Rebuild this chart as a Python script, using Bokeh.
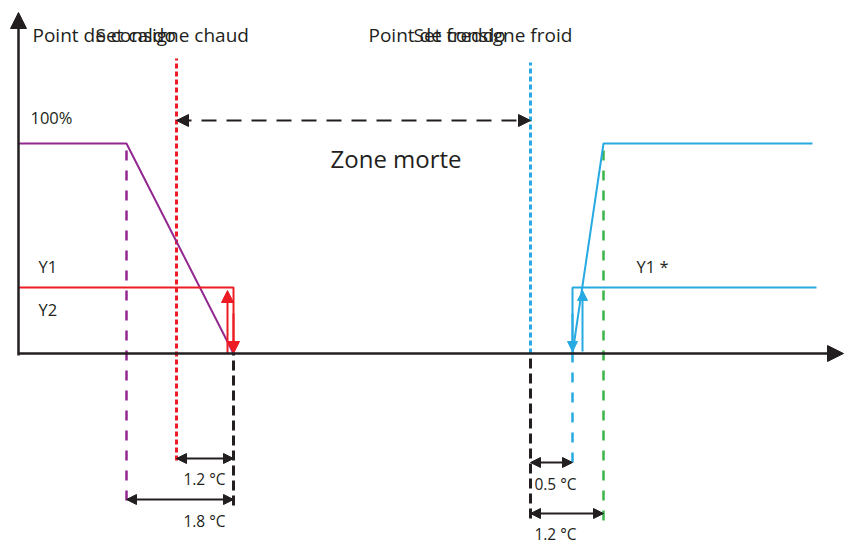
from bokeh.plotting import figure
from bokeh.models import Range1d, Arrow, NormalHead, ColumnDataSource
from bokeh.core.properties import value
from bokeh.embed import file_html
from bokeh.resources import INLINE

# ---- diagram data (diagram units: x to the right of the y axis, y above the x axis) ----
# heating (chaud) output curves
purple_x = [0, 108, 215]          # 100% level, then ramp to 0 over 1.8 °C
purple_y = [210, 210, 0]
red_x = [0, 215, 215]             # Y1 / Y2 step output
red_y = [66, 66, 0]
# cooling (froid) output curves
blue_step_x = [554, 554, 798]     # Y1* step
blue_step_y = [0, 66, 66]
blue_ramp_x = [554, 585, 794]     # ramp to 100% over 1.2 °C
blue_ramp_y = [0, 210, 210]

# vertical reference lines: x, y bottom, y top, colour, dash, width
vlines_x = [108, 158, 215, 512, 512, 554, 585]
vlines_y0 = [-147, -107, -152, 0, -165, -109, -167]
vlines_y1 = [210, 295, 0, 291, 0, 0, 210]
vlines_color = ["#92278F", "#ED1C24", "#231F20", "#27AAE1", "#231F20", "#27AAE1", "#39B54A"]
vlines_dash = ["10 10", "5 3", "10 5", "5 3", "10 5", "10 10", "10 10"]
vlines_width = [2.5, 3, 3, 3, 3, 2.5, 2.5]

# dimension arrows (°C)
dim_x0 = [158, 108, 512, 512]
dim_x1 = [215, 215, 554, 585]
dim_y = [-105, -146, -109, -160]
dim_labels = ["1.2 °C", "1.8 °C", "0.5 °C", "1.2 °C"]
dim_label_x = [186, 186, 537, 537]
dim_label_y = [-125, -167, -130, -180]

# text labels
lab_text = ["100%", "Y1", "Y2", "Y1 *"]
lab_x = [12, 20, 20, 618]
lab_y = [236, 87, 44, 87]
title_text = ["Point de consigne chaud", "Set caldo", "Point de consigne froid", "Set freddo"]
title_x = [14, 77, 350, 395]
title_y = [319, 319, 319, 319]

BLACK = "#231F20"
FONT = value("Open Sans")

p = figure(width=844, height=543, output_backend="svg", toolbar_location=None,
           x_range=Range1d(-18, 826), y_range=Range1d(-190, 353),
           x_axis_location=None, y_axis_location=None, min_border=0)
p.grid.visible = False
p.outline_line_color = None
p.background_fill_color = "white"

# vertical reference lines
for x, y0, y1, c, d, w in zip(vlines_x, vlines_y0, vlines_y1, vlines_color, vlines_dash, vlines_width):
    p.line([x, x], [y0, y1], line_color=c, line_width=w, line_dash=d)

# output curves
p.line(purple_x, purple_y, line_color="#92278F", line_width=2)
p.line(red_x, red_y, line_color="#ED1C24", line_width=2)
p.line(blue_step_x, blue_step_y, line_color="#27AAE1", line_width=2)
p.line(blue_ramp_x, blue_ramp_y, line_color="#27AAE1", line_width=2)

# direction arrows on the steps
p.add_layout(Arrow(x_start=215, y_start=40, x_end=215, y_end=0, line_color="#ED1C24", line_width=2,
                   end=NormalHead(size=12, fill_color="#ED1C24", line_color="#ED1C24")))
p.add_layout(Arrow(x_start=209, y_start=0, x_end=209, y_end=63, line_color="#ED1C24", line_width=2,
                   end=NormalHead(size=12, fill_color="#ED1C24", line_color="#ED1C24")))
p.add_layout(Arrow(x_start=554, y_start=40, x_end=554, y_end=2, line_color="#27AAE1", line_width=2,
                   end=NormalHead(size=10, fill_color="#27AAE1", line_color="#27AAE1")))
p.add_layout(Arrow(x_start=564, y_start=2, x_end=564, y_end=63, line_color="#27AAE1", line_width=2,
                   end=NormalHead(size=10, fill_color="#27AAE1", line_color="#27AAE1")))

# dead zone arrow
p.add_layout(Arrow(x_start=158, y_start=233, x_end=512, y_end=233, line_color=BLACK, line_width=2,
                   line_dash="15 10",
                   start=NormalHead(size=12, fill_color=BLACK, line_color=BLACK),
                   end=NormalHead(size=12, fill_color=BLACK, line_color=BLACK)))

# dimension arrows
dim_src = ColumnDataSource(dict(x0=dim_x0, x1=dim_x1, y=dim_y))
p.add_layout(Arrow(source=dim_src, x_start="x0", y_start="y", x_end="x1", y_end="y",
                   line_color=BLACK, line_width=2,
                   start=NormalHead(size=10, fill_color=BLACK, line_color=BLACK),
                   end=NormalHead(size=10, fill_color=BLACK, line_color=BLACK)))
p.text(dim_label_x, dim_label_y, text=dim_labels, text_font=FONT, text_font_size="15.5px",
       text_color=BLACK, text_align="center", text_baseline="middle")

# axes
p.add_layout(Arrow(x_start=0, y_start=-2, x_end=0, y_end=341, line_color=BLACK, line_width=2.5,
                   end=NormalHead(size=16, fill_color=BLACK, line_color=BLACK)))
p.add_layout(Arrow(x_start=0, y_start=0, x_end=825, y_end=0, line_color=BLACK, line_width=2.5,
                   end=NormalHead(size=16, fill_color=BLACK, line_color=BLACK)))

# labels
p.text(title_x, title_y, text=title_text, text_font=FONT, text_font_size="19px",
       text_color=BLACK, text_align="left", text_baseline="middle")
p.text(lab_x, lab_y, text=lab_text, text_font=FONT, text_font_size="16.5px",
       text_color=BLACK, text_align="left", text_baseline="middle")
p.text([312], [195], text=["Zone morte"], text_font=FONT, text_font_size="24px",
       text_color=BLACK, text_align="left", text_baseline="middle")

open("out.html", "w").write(file_html(p, INLINE))
